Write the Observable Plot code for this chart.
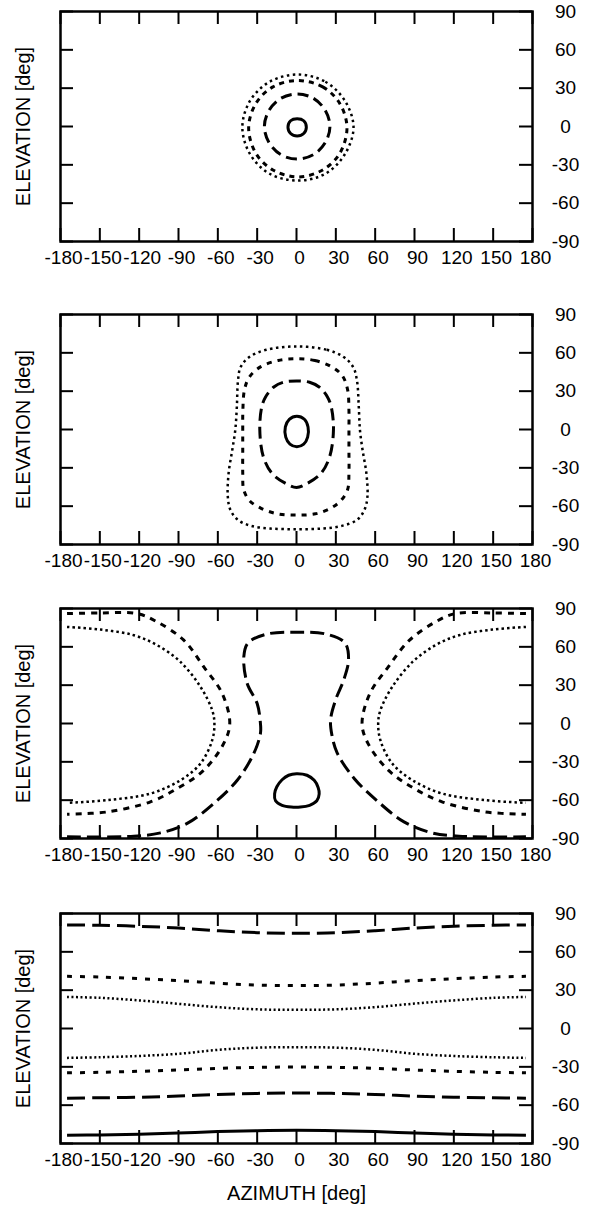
<!DOCTYPE html>
<html><head><meta charset="utf-8">
<script src="https://cdn.jsdelivr.net/npm/d3@7"></script>
<script src="https://cdn.jsdelivr.net/npm/@observablehq/plot@0.6"></script>
<style>
body{margin:0;background:#fff;}
#root{position:relative;width:595px;height:1212px;overflow:hidden;background:#fff;}
#root svg{position:absolute;left:0;overflow:visible;}
</style></head><body><div id="root"></div>
<script>
// ---- axis ticks ----
const xTicks = [-180,-150,-120,-90,-60,-30,0,30,60,90,120,150,180];
const yTicks = [-90,-60,-30,0,30,60,90];
const xTitle = "AZIMUTH [deg]";
const yTitle = "ELEVATION [deg]";

// ---- panel 1 contours [azimuth, elevation] ----
const p1Solid = [[0.5,6],[5.5,4.5],[7.5,-0.5],[5.5,-5.5],[0.5,-7.5],[-4.5,-5.5],[-6.5,-0.5],[-4.5,4.5]];
const p1LongDash = [[0.5,25.5],[13,22],[22,12.5],[25.5,0],[22,-12.5],[13,-22],[0.5,-25.5],[-12,-22],[-21,-12.5],[-24.5,0],[-21,12.5],[-12,22]];
const p1ShortDash = [[1,36],[20,31],[33,18],[38.5,-1],[33,-21],[20,-34],[1,-39.5],[-18,-34],[-31,-21],[-36.5,-1],[-31,18],[-18,31]];
const p1Dotted = [[1,40.7],[22,35],[37,20],[43.5,-0.5],[37,-21.5],[22,-37],[1,-42.3],[-20.5,-37],[-35.5,-21.5],[-41.3,-0.5],[-35.5,20],[-20.5,35]];

// ---- panel 2 contours ----
const p2Solid = [[0.3,10.4],[6,8],[8.8,2],[8.5,-6],[5.5,-11.5],[0.3,-13.5],[-5,-11.5],[-8.2,-6],[-8.5,2],[-5.5,8]];
const p2LongDash = [[0,38],[10,37],[17.3,33.3],[23.6,25.5],[26.5,17.7],[28.2,0],[25.3,-21.3],[18.7,-34.3],[8.6,-42],[0,-45.3],[-8.6,-42],[-18.7,-34.3],[-25.3,-21.3],[-28,0],[-26.5,17.7],[-23.6,25.5],[-17.3,33.3],[-10,37]];
const p2ShortDash = [[0,55.4],[14,54],[27,49],[35,42],[39,31],[40,15],[40,0],[40,-17],[40,-34],[39,-47],[34,-55.5],[25.9,-61.7],[14.4,-66],[0,-67],[-14.4,-66],[-27,-61.7],[-36,-55.5],[-40.3,-47],[-41,-34],[-41,-17],[-41,0],[-40.9,15],[-39.7,31],[-36,41],[-27.5,49],[-14,54]];
const p2Dotted = [[0,65],[23,62.4],[36,56.7],[43.2,48.9],[46.1,38.5],[47.5,17.7],[48.4,-0.5],[50.4,-16.1],[53.3,-34.3],[54.1,-52.5],[51.8,-63],[46.1,-70.8],[34.6,-75.4],[20.2,-77.5],[0,-78],[-20.2,-77.5],[-34.6,-75.4],[-44.6,-70.8],[-50.4,-63],[-52.4,-52.5],[-51.8,-34.3],[-49,-16.1],[-46.7,-0.5],[-45.5,17.7],[-44.6,38.5],[-42.6,48.9],[-36,56.7],[-23,62.4]];

// ---- panel 3 contours ----
const p3Solid = [[0,-39.3],[8,-40.5],[13.5,-44.5],[16.5,-50],[17.3,-55],[15.5,-60.5],[10,-64],[3,-65.4],[-4,-65.4],[-11,-64],[-16,-60.5],[-16.7,-55],[-15,-49.5],[-11,-44],[-6,-40.5]];
const p3LongDash = [[-175,-88.7],[-124.1,-88.2],[-103.7,-85.6],[-83.4,-78.2],[-63.1,-62.6],[-45.2,-44.4],[-32.6,-23.5],[-27.5,-7.8],[-27.5,0],[-30,15.6],[-37.6,31.3],[-40.2,52.1],[-37,63],[-23,69.9],[0,71.5],[23,69.9],[37,63],[39.7,50],[36,34],[30,19],[26,3],[27,-9],[31,-23],[44,-43],[62,-61],[82,-77],[103,-85.5],[124,-88.2],[175,-88.7]];
const p3ShortDashLeft = [[-175,86],[-150,86.5],[-121.5,86],[-106.3,79.5],[-86,65.2],[-70.7,44.3],[-56.7,23.5],[-50.9,0],[-55.5,-15.6],[-70.7,-36.5],[-91,-50.9],[-111.4,-61.3],[-144.4,-69.2],[-175,-71]];
const p3ShortDashRight = [[175,86],[150,86.5],[121,86],[106,79.5],[86,65],[70,44.3],[56,23.5],[50,0],[54.5,-15.6],[70,-36.5],[90,-51],[111,-61.3],[144,-69.2],[175,-71]];
const p3DottedLeft = [[-175,75.6],[-149.5,73.5],[-124.1,69.1],[-106.3,61.3],[-88.5,48.2],[-73.2,28.6],[-64.3,10.4],[-62.6,0],[-64.3,-13.1],[-73.2,-31.3],[-88.5,-44.4],[-111.4,-54.8],[-144.4,-60],[-175,-62.1]];
const p3DottedRight = [[175,75.6],[149.5,73.5],[124,69.1],[106,61.3],[88.5,48.2],[73,28.6],[64,10.4],[62.3,0],[64,-13.1],[73,-31.3],[88.5,-44.4],[111,-54.8],[144,-60],[175,-62.1]];

// ---- panel 4 contours (elevation at each azimuth) ----
const p4Az = [-175,-150,-120,-90,-60,-30,0,30,60,90,120,150,175];
const p4LongDashTop = [81,80.8,80,78.6,76.5,75,74.5,75,76.5,78.6,80,80.8,81];
const p4ShortDashTop = [40.8,40.3,39,37.5,35.5,34,33.6,34,35.5,37.5,39,40.3,40.8];
const p4DottedTop = [24.7,24,22,19.3,16.7,15,14.6,15,16.7,19.5,22,24,24.7];
const p4DottedBottom = [-23,-22.5,-21.5,-19.8,-16.7,-15,-14.6,-15,-16.7,-19.8,-21.5,-22.5,-23];
const p4ShortDashBottom = [-34.7,-34.3,-33.5,-32.5,-31.2,-30.4,-30.2,-30.4,-31.2,-32.5,-33.5,-34.3,-34.7];
const p4LongDashBottom = [-54.5,-54.2,-53.8,-52.9,-51.6,-50.8,-50.5,-50.8,-51.6,-52.9,-53.8,-54.2,-54.5];
const p4Solid = [-83.5,-83.3,-82.8,-81.8,-80.7,-80,-79.7,-80,-80.7,-81.8,-82.8,-83.3,-83.5];

// ---- styles (per panel dash lengths) ----
const styleFor = (s, dash) => ({
  solid: {strokeWidth: 3},
  longDash: {strokeWidth: 3, strokeDasharray: dash.long},
  shortDash: {strokeWidth: 3, strokeDasharray: dash.short},
  dotted: {strokeWidth: 2.5, strokeDasharray: dash.dot}
})[s];
const zip = (az, el) => az.map((a, i) => [a, el[i]]);

const panels = [
  {top: 11, dash: {long: "11,6", short: "5,5", dot: "2.5,3.5"}, contours: [
    {pts: p1Solid, s: "solid", closed: true},
    {pts: p1LongDash, s: "longDash", closed: true},
    {pts: p1ShortDash, s: "shortDash", closed: true},
    {pts: p1Dotted, s: "dotted", closed: true}]},
  {top: 314.3, dash: {long: "12,6", short: "5,6", dot: "2.5,3.5"}, contours: [
    {pts: p2Solid, s: "solid", closed: true},
    {pts: p2LongDash, s: "longDash", closed: true},
    {pts: p2ShortDash, s: "shortDash", closed: true},
    {pts: p2Dotted, s: "dotted", closed: true}]},
  {top: 608.3, dash: {long: "14,6", short: "6,6", dot: "2.5,3"}, contours: [
    {pts: p3Solid, s: "solid", closed: true},
    {pts: p3LongDash, s: "longDash"},
    {pts: p3ShortDashLeft, s: "shortDash"},
    {pts: p3ShortDashRight, s: "shortDash"},
    {pts: p3DottedLeft, s: "dotted"},
    {pts: p3DottedRight, s: "dotted"}]},
  {top: 913.3, last: true, dash: {long: "18,7", short: "5,8", dot: "2,2.5"}, contours: [
    {pts: zip(p4Az, p4LongDashTop), s: "longDash"},
    {pts: zip(p4Az, p4ShortDashTop), s: "shortDash"},
    {pts: zip(p4Az, p4DottedTop), s: "dotted"},
    {pts: zip(p4Az, p4DottedBottom), s: "dotted"},
    {pts: zip(p4Az, p4ShortDashBottom), s: "shortDash"},
    {pts: zip(p4Az, p4LongDashBottom), s: "longDash"},
    {pts: zip(p4Az, p4Solid), s: "solid"}]}
];

const W = 595, ML = 60, MR = 63, MT = 11, H = 230, TICK = 13;
const root = document.getElementById("root");

for (const p of panels) {
  const MB = p.last ? 80 : 50;
  const marks = [];
  for (const c of p.contours) {
    marks.push(Plot.line(c.pts, {
      x: d => d[0], y: d => d[1], stroke: "black", fill: "none",
      curve: c.closed ? "catmull-rom-closed" : "catmull-rom",
      strokeLinecap: "butt", strokeLinejoin: "round", ...styleFor(c.s, p.dash)
    }));
  }
  const innerW = W - ML - MR;
  marks.push(Plot.ruleX(xTicks, {x: d => d, insetBottom: H - TICK, strokeWidth: 2, stroke: "black"}));
  marks.push(Plot.ruleX(xTicks, {x: d => d, insetTop: H - TICK, strokeWidth: 2, stroke: "black"}));
  marks.push(Plot.ruleY(yTicks, {y: d => d, insetRight: innerW - TICK, strokeWidth: 2, stroke: "black"}));
  marks.push(Plot.ruleY(yTicks, {y: d => d, insetLeft: innerW - TICK, strokeWidth: 2, stroke: "black"}));
  marks.push(Plot.frame({stroke: "black", strokeWidth: 2.5}));
  marks.push(Plot.text(xTicks, {x: d => d, frameAnchor: "bottom", dy: 22, dx: 3, textAnchor: "middle", text: d => String(d), fontSize: 19, fill: "black"}));
  marks.push(Plot.text(yTicks, {y: d => d, frameAnchor: "right", dx: 33, textAnchor: "middle", text: d => String(d), fontSize: 19, fill: "black"}));
  marks.push(Plot.text([yTitle], {frameAnchor: "left", dx: -37, rotate: -90, textAnchor: "middle", text: d => d, fontSize: 20, fill: "black"}));
  if (p.last) marks.push(Plot.text([xTitle], {frameAnchor: "bottom", dy: 56, textAnchor: "middle", text: d => d, fontSize: 20, fill: "black"}));
  const svg = Plot.plot({
    width: W, height: MT + H + MB,
    marginLeft: ML, marginRight: MR, marginTop: MT, marginBottom: MB,
    x: {domain: [-180, 180], axis: null},
    y: {domain: [-90, 90], axis: null},
    style: {fontFamily: "'Liberation Sans', Arial, Helvetica, sans-serif", background: "transparent", color: "black"},
    marks
  });
  svg.style.top = (p.top - MT) + "px";
  root.appendChild(svg);
}
</script></body></html>
